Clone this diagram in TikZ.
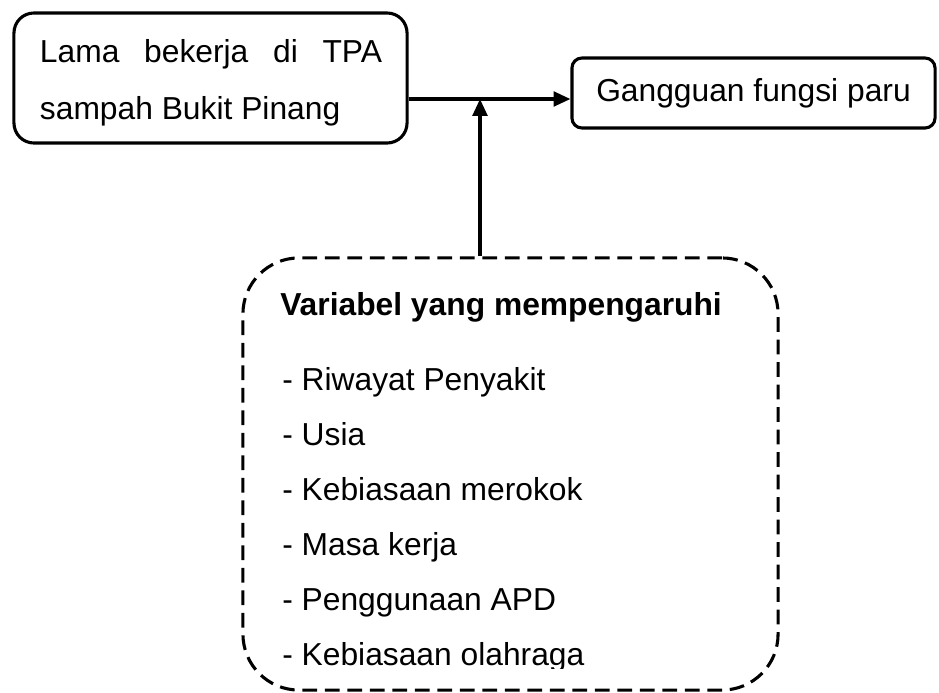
\documentclass[tikz,border=0pt]{standalone}
\usepackage{fontspec}
\setmainfont{Liberation Sans}
\usetikzlibrary{arrows.meta}

\begin{document}
\begin{tikzpicture}[x=0.025cm, y=-0.025cm,
  kotak/.style={draw, line width=2.2pt, rounded corners=0.5cm, inner sep=0pt},
  putus/.style={draw, line width=2.2pt, rounded corners=1.4cm, dash pattern=on 10.5pt off 5.5pt},
  panah/.style={-{Triangle[length=12pt,width=10.5pt]}, line width=2.2pt},
  teks/.style={font=\fontsize{22.6}{40.5}\selectfont}]
\useasboundingbox (0,0) rectangle (939,692);

% ======================= KOTAK ATAS =======================
\node[kotak, teks, minimum width=9.825cm, minimum height=3.25cm] (lama) at (210.5,78) {};
\node[teks, text width=8.55cm, align=justify, inner sep=0pt] (lamateks) at (211,83)
  {Lama bekerja di TPA sampah Bukit Pinang};
\node[kotak, teks, rounded corners=0.25cm, minimum width=9.075cm, minimum height=1.75cm] (gangguan) at (753.5,93)
  {Gangguan fungsi paru};

% ======================= KOTAK BAWAH (putus-putus) =======================
\node[putus, minimum width=13.375cm, minimum height=10.8cm] (faktor) at (510.5,474) {};
\node[font=\fontsize{22.6}{39}\bfseries, anchor=base west, inner sep=0pt] (judul) at (280,315)
  {Variabel yang mempengaruhi};
\begin{scope}
  \clip (0,0) rectangle (939,668);
  \foreach \isi [count=\i] in {Riwayat Penyakit, Usia, Kebiasaan merokok, Masa kerja,
      Penggunaan APD, Kebiasaan olahraga}
    \node[teks, anchor=base west, inner sep=0pt] (item\i) at (282,{335+55*\i}) {- \isi};
\end{scope}

% Panah
\coordinate (temu) at (480,99);
\draw[panah] (lama.east |- temu) -- (gangguan.west |- temu);
\draw[panah] (temu |- faktor.north) -- (temu);

\end{tikzpicture}
\end{document}
